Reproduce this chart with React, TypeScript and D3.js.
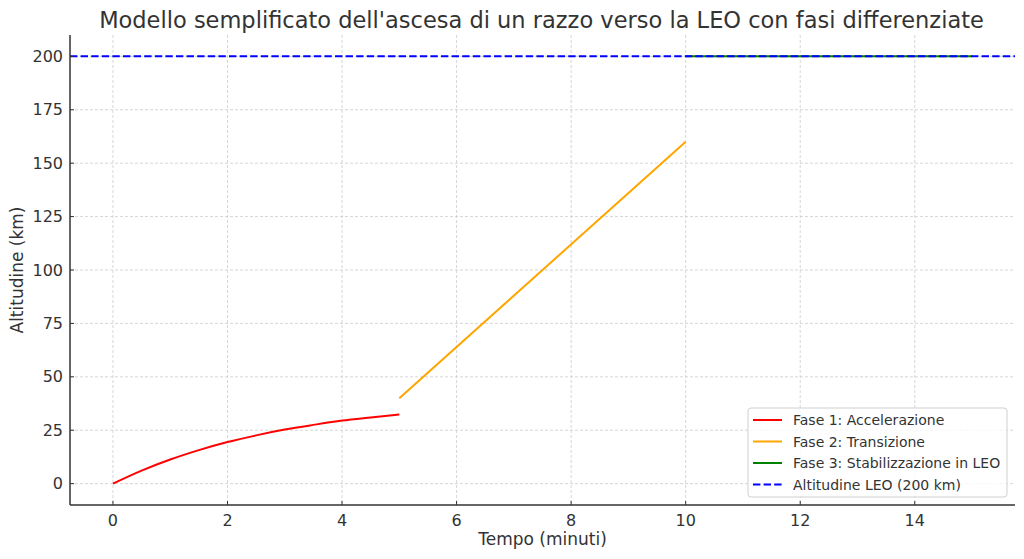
import React from "react";
import * as d3 from "d3";

const phase1T = [0, 0.5, 1, 1.5, 2, 2.5, 3, 3.5, 4, 4.5, 5];
const phase1Alt = [0, 6.1, 11.3, 15.7, 19.5, 22.6, 25.3, 27.5, 29.5, 31.0, 32.4];
const phase2T = [5, 10];
const phase2Alt = [40, 160];
const phase3T = [10, 15];
const phase3Alt = [200, 200];
const leoAlt = 200;
const xTicks = [0, 2, 4, 6, 8, 10, 12, 14];
const yTicks = [0, 25, 50, 75, 100, 125, 150, 175, 200];
const legendLabels = [
  "Fase 1: Accelerazione",
  "Fase 2: Transizione",
  "Fase 3: Stabilizzazione in LEO",
  "Altitudine LEO (200 km)",
];
const legendColors = ["#ff0000", "#ffa500", "#008000", "#0000ff"];

export default function App() {
  const W = 1024, H = 559;
  const L = 70, R = 1015, T = 35, B = 505;
  const x = d3.scaleLinear().domain([-0.75, 15.75]).range([L, R]);
  const y = d3.scaleLinear().domain([-10, 210]).range([B, T]);
  const line = d3.line<[number, number]>().x((d) => x(d[0])).y((d) => y(d[1]));
  const smooth = d3.line<[number, number]>().x((d) => x(d[0])).y((d) => y(d[1])).curve(d3.curveMonotoneX);
  const p1 = phase1T.map((t, i) => [t, phase1Alt[i]] as [number, number]);
  const p2 = phase2T.map((t, i) => [t, phase2Alt[i]] as [number, number]);
  const p3 = phase3T.map((t, i) => [t, phase3Alt[i]] as [number, number]);
  const font = "DejaVu Sans, sans-serif";
  const txt = "#333333";
  const lx = 748, ly = 408, lw = 259, lh = 89;
  return (
    <svg width={W} height={H} style={{ position: "absolute", left: 0, top: 0, background: "#fff" }} fontFamily={font}>
      <rect width={W} height={H} fill="#fff" />
      <text x={(L + R) / 2 - 1} y={28} textAnchor="middle" fontSize={22.5} fill={txt}>
        Modello semplificato dell'ascesa di un razzo verso la LEO con fasi differenziate
      </text>
      {xTicks.map((t) => (
        <line key={"gx" + t} x1={x(t)} x2={x(t)} y1={T} y2={B} stroke="#cccccc" strokeWidth={0.8} strokeDasharray="3,2" />
      ))}
      {yTicks.map((t) => (
        <line key={"gy" + t} x1={L} x2={R} y1={y(t)} y2={y(t)} stroke="#cccccc" strokeWidth={0.8} strokeDasharray="3,2" />
      ))}
      <path d={smooth(p1) || ""} fill="none" stroke={legendColors[0]} strokeWidth={2} />
      <path d={line(p2) || ""} fill="none" stroke={legendColors[1]} strokeWidth={2} />
      <path d={line(p3) || ""} fill="none" stroke={legendColors[2]} strokeWidth={2} />
      <line x1={L} x2={R} y1={y(leoAlt)} y2={y(leoAlt)} stroke={legendColors[3]} strokeWidth={2} strokeDasharray="7.4,3.2" />
      <line x1={L} x2={L} y1={T} y2={B} stroke={txt} strokeWidth={1.5} />
      <line x1={L} x2={R} y1={B} y2={B} stroke={txt} strokeWidth={1.5} />
      {xTicks.map((t) => (
        <g key={"tx" + t}>
          <line x1={x(t)} x2={x(t)} y1={B} y2={B - 4} stroke={txt} strokeWidth={1} />
          <text x={x(t)} y={B + 21} textAnchor="middle" fontSize={16} fill={txt}>{t}</text>
        </g>
      ))}
      {yTicks.map((t) => (
        <g key={"ty" + t}>
          <line x1={L} x2={L + 4} y1={y(t)} y2={y(t)} stroke={txt} strokeWidth={1} />
          <text x={L - 7} y={y(t) + 5.5} textAnchor="end" fontSize={16} fill={txt}>{t}</text>
        </g>
      ))}
      <text x={(L + R) / 2} y={545} textAnchor="middle" fontSize={17} fill={txt}>Tempo (minuti)</text>
      <text transform={`translate(23,${(T + B) / 2}) rotate(-90)`} textAnchor="middle" fontSize={17} fill={txt}>Altitudine (km)</text>
      <rect x={lx} y={ly} width={lw} height={lh} rx={3} fill="#fff" fillOpacity={0.8} stroke="#d0d0d0" strokeWidth={1} />
      {legendLabels.map((lab, i) => {
        const yy = ly + 12 + i * 21.5;
        return (
          <g key={lab}>
            <line x1={lx + 5} x2={lx + 34} y1={yy} y2={yy} stroke={legendColors[i]} strokeWidth={2}
              strokeDasharray={i === 3 ? "7.4,3.2" : undefined} />
            <text x={lx + 45} y={yy + 5} fontSize={14} fill={txt}>{lab}</text>
          </g>
        );
      })}
    </svg>
  );
}
